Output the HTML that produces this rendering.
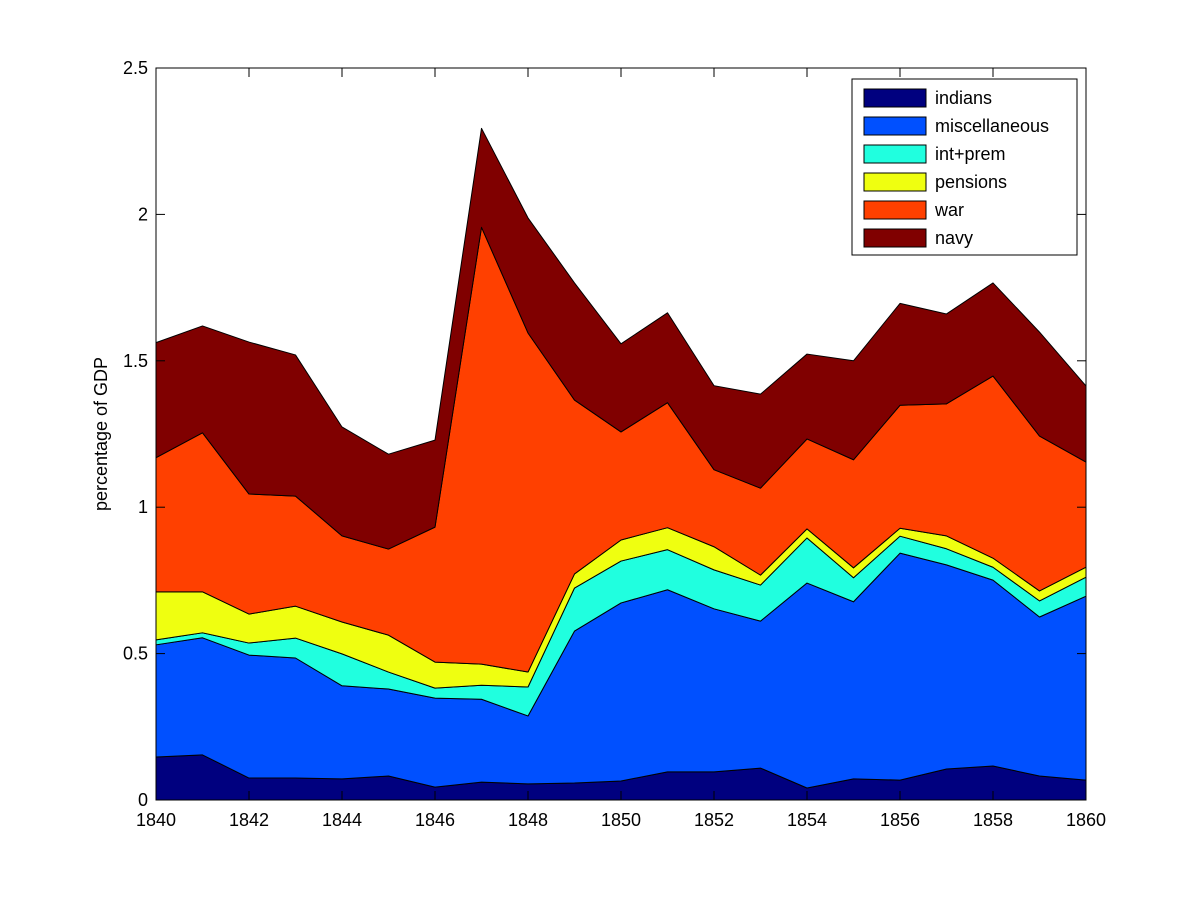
<!DOCTYPE html>
<html><head><meta charset="utf-8"><style>
html,body{margin:0;padding:0;background:#fff;}
svg{display:block;font-family:"Liberation Sans",Arial,sans-serif;}
</style></head><body>
<svg id="chart" width="1200" height="900" viewBox="0 0 1200 900">
<rect width="1200" height="900" fill="#fff"/>
<g id="areas"></g>
<g id="axes"></g>
<g id="legend"></g>
</svg>
<script>
const years = [1840,1841,1842,1843,1844,1845,1846,1847,1848,1849,1850,1851,1852,1853,1854,1855,1856,1857,1858,1859,1860];
const seriesNames = ["indians","miscellaneous","int+prem","pensions","war","navy"];
const indians = [0.147,0.154,0.075,0.075,0.072,0.082,0.044,0.061,0.055,0.058,0.065,0.096,0.096,0.109,0.041,0.072,0.068,0.106,0.116,0.082,0.068];
const miscellaneous = [0.383,0.400,0.420,0.410,0.318,0.297,0.304,0.283,0.232,0.519,0.608,0.622,0.557,0.502,0.700,0.605,0.775,0.697,0.635,0.543,0.628];
const intPrem = [0.017,0.017,0.041,0.068,0.109,0.058,0.034,0.048,0.099,0.147,0.143,0.137,0.133,0.123,0.154,0.082,0.058,0.055,0.044,0.055,0.065];
const pensions = [0.164,0.140,0.099,0.109,0.109,0.126,0.089,0.072,0.051,0.048,0.072,0.075,0.079,0.034,0.031,0.034,0.027,0.044,0.031,0.034,0.034];
const war = [0.458,0.543,0.410,0.376,0.294,0.294,0.461,1.492,1.158,0.594,0.369,0.427,0.263,0.297,0.307,0.369,0.420,0.451,0.622,0.529,0.359];
const navy = [0.393,0.365,0.519,0.482,0.372,0.324,0.297,0.338,0.393,0.400,0.301,0.307,0.287,0.321,0.290,0.338,0.348,0.307,0.318,0.355,0.260];
const xTicks = [1840,1842,1844,1846,1848,1850,1852,1854,1856,1858,1860];
const yTicks = [0,0.5,1,1.5,2,2.5];
const yTickLabels = ["0","0.5","1","1.5","2","2.5"];

const colors = ["#00007F","#0050FF","#20FFDF","#EFFF10","#FF4000","#800000"];
const L=156,R=1086,T=68,B=800;
const xS = v => L + (v-1840)/(1860-1840)*(R-L);
const yS = v => B - v/2.5*(B-T);
const NS="http://www.w3.org/2000/svg";
function mk(tag, attrs, parent){const e=document.createElementNS(NS,tag);for(const k in attrs)e.setAttribute(k,attrs[k]);parent.appendChild(e);return e;}

const data=[indians,miscellaneous,intPrem,pensions,war,navy];
const areas=document.getElementById('areas');
let base=years.map(()=>0);
data.forEach((s,i)=>{
  const top=base.map((b,j)=>b+s[j]);
  let d="M"+years.map((y,j)=>xS(y)+","+yS(top[j])).join(" L");
  for(let j=years.length-1;j>=0;j--) d+=" L"+xS(years[j])+","+yS(base[j]);
  d+=" Z";
  const p=mk('path',{d:d,fill:colors[i],stroke:"#000","stroke-width":1,"stroke-linejoin":"round"},areas);
  
  
  base=top;
});

const ax=document.getElementById('axes');
const frame=mk('rect',{x:L,y:T,width:R-L,height:B-T,fill:"none",stroke:"#000","stroke-width":1},ax);


xTicks.forEach(v=>{
  const x=xS(v);
  mk('line',{x1:x,y1:B,x2:x,y2:B-9,stroke:"#000"},ax);
  mk('line',{x1:x,y1:T,x2:x,y2:T+9,stroke:"#000"},ax);
  const t=mk('text',{x:x,y:B+26,"text-anchor":"middle","font-size":18},ax);
  t.textContent=v;
  
  
});
yTicks.forEach((v,i)=>{
  const y=yS(v);
  mk('line',{x1:L,y1:y,x2:L+9,y2:y,stroke:"#000"},ax);
  mk('line',{x1:R,y1:y,x2:R-9,y2:y,stroke:"#000"},ax);
  const t=mk('text',{x:L-8,y:y+6,"text-anchor":"end","font-size":18},ax);
  t.textContent=yTickLabels[i];
  
  
});
const yt=mk('text',{x:0,y:0,transform:"translate(107,434) rotate(-90)","text-anchor":"middle","font-size":18},ax);
yt.textContent="percentage of GDP";



const lg=document.getElementById('legend');
const box=mk('rect',{x:852,y:79,width:225,height:176,fill:"#fff",stroke:"#000"},lg);


seriesNames.forEach((n,i)=>{
  const y=98+i*28;
  const g=mk('g',{},lg);
  
  
  mk('rect',{x:864,y:y-9,width:62,height:18,fill:colors[i],stroke:"#000"},g);
  const t=mk('text',{x:935,y:y+6,"font-size":18},g);
  t.textContent=n;
});
</script>
</body></html>
